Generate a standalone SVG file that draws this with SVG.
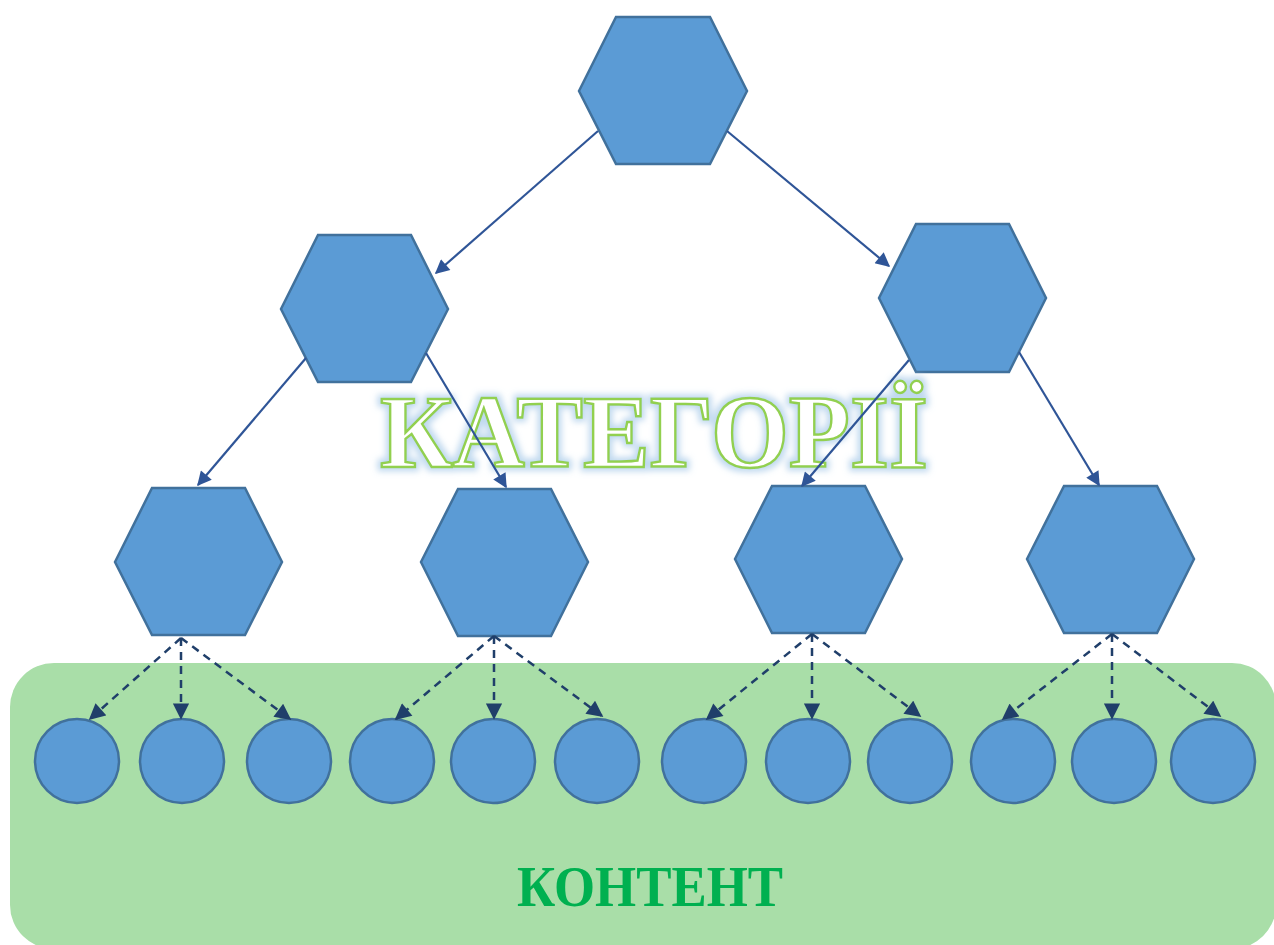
<svg xmlns="http://www.w3.org/2000/svg" width="1274" height="945" viewBox="0 0 1274 945">
  <defs>
    <style>
      .hex { fill: #5b9bd5; stroke: #41719c; stroke-width: 2.5; stroke-linejoin: miter; }
      .leaf { fill: #5b9bd5; stroke: #41719c; stroke-width: 2.5; }
      .solid { fill: none; stroke: #2f5597; stroke-width: 2.2; marker-end: url(#headSolid); }
      .dash { fill: none; stroke: #203f6a; stroke-width: 2.5; stroke-dasharray: 8 6; marker-end: url(#headDash); }
      .title { font-family: "Liberation Serif", "DejaVu Serif", serif; font-weight: bold; }
    </style>
    <marker id="headSolid" viewBox="0 0 10 10" refX="9" refY="5" markerWidth="7" markerHeight="6.5" orient="auto" markerUnits="strokeWidth">
      <path d="M0,0 L10,5 L0,10 z" fill="#2f5597"/>
    </marker>
    <marker id="headDash" viewBox="0 0 10 10" refX="9" refY="5" markerWidth="7" markerHeight="6.5" orient="auto" markerUnits="strokeWidth">
      <path d="M0,0 L10,5 L0,10 z" fill="#203f6a"/>
    </marker>
    <filter id="glow" x="-10%" y="-30%" width="120%" height="160%">
      <feMorphology in="SourceAlpha" operator="dilate" radius="2.5" result="fat"/>
      <feGaussianBlur in="fat" stdDeviation="3" result="soft"/>
      <feFlood flood-color="#bdd7ee" flood-opacity="0.95"/>
      <feComposite in2="soft" operator="in" result="halo"/>
      <feMerge>
        <feMergeNode in="halo"/>
        <feMergeNode in="SourceGraphic"/>
      </feMerge>
    </filter>
  </defs>

  <rect width="1274" height="945" fill="#ffffff"/>

  <!-- content area -->
  <g id="content-area">
    <rect x="10" y="663" width="1266" height="286" rx="44" ry="44" fill="#a9dea8"/>
    <text class="title" x="650" y="906" text-anchor="middle" font-size="57" fill="#00b050" textLength="266" lengthAdjust="spacingAndGlyphs">КОНТЕНТ</text>
  </g>

  <!-- category hexagons -->
  <g id="cat-root"><polygon class="hex" points="579,91 616,17 710,17 747,91 710,164 616,164"/></g>
  <g id="cat-left"><polygon class="hex" points="281,309 318,235 411,235 448,309 411,382 318,382"/></g>
  <g id="cat-right"><polygon class="hex" points="879,298 916,224 1009,224 1046,298 1009,372 916,372"/></g>
  <g id="cat-a"><polygon class="hex" points="115,562 152,488 245,488 282,562 245,635 152,635"/></g>
  <g id="cat-b"><polygon class="hex" points="421,562 458,489 551,489 588,562 551,636 458,636"/></g>
  <g id="cat-c"><polygon class="hex" points="735,559 772,486 865,486 902,559 865,633 772,633"/></g>
  <g id="cat-d"><polygon class="hex" points="1027,559 1064,486 1157,486 1194,559 1157,633 1064,633"/></g>

  <!-- heading -->
  <g id="heading" filter="url(#glow)">
    <text class="title" x="654" y="467" text-anchor="middle" font-size="104" fill="#ffffff" stroke="#92d050" stroke-width="2.5" textLength="548" lengthAdjust="spacingAndGlyphs">КАТЕГОРІЇ</text>
  </g>

  <!-- content items -->
  <g id="items">
    <circle id="item-1" class="leaf" cx="77" cy="761" r="42"/>
    <circle id="item-2" class="leaf" cx="182" cy="761" r="42"/>
    <circle id="item-3" class="leaf" cx="289" cy="761" r="42"/>
    <circle id="item-4" class="leaf" cx="392" cy="761" r="42"/>
    <circle id="item-5" class="leaf" cx="493" cy="761" r="42"/>
    <circle id="item-6" class="leaf" cx="597" cy="761" r="42"/>
    <circle id="item-7" class="leaf" cx="704" cy="761" r="42"/>
    <circle id="item-8" class="leaf" cx="808" cy="761" r="42"/>
    <circle id="item-9" class="leaf" cx="910" cy="761" r="42"/>
    <circle id="item-10" class="leaf" cx="1013" cy="761" r="42"/>
    <circle id="item-11" class="leaf" cx="1114" cy="761" r="42"/>
    <circle id="item-12" class="leaf" cx="1213" cy="761" r="42"/>
  </g>

  <!-- connectors -->
  <g id="connectors">
    <line class="solid" x1="598" y1="131" x2="436" y2="273"/>
    <line class="solid" x1="727" y1="131" x2="889" y2="266"/>
    <line class="solid" x1="306" y1="358" x2="198" y2="485"/>
    <line class="solid" x1="426" y1="353" x2="506" y2="487"/>
    <line class="solid" x1="909" y1="360" x2="802" y2="486"/>
    <line class="solid" x1="1019" y1="352" x2="1099" y2="485"/>

    <line class="dash" x1="181" y1="638" x2="90" y2="719"/>
    <line class="dash" x1="181" y1="638" x2="181" y2="718"/>
    <line class="dash" x1="181" y1="638" x2="290" y2="719"/>

    <line class="dash" x1="494" y1="636" x2="396" y2="719"/>
    <line class="dash" x1="494" y1="636" x2="494" y2="718"/>
    <line class="dash" x1="494" y1="636" x2="602" y2="716"/>

    <line class="dash" x1="812" y1="634" x2="707" y2="719"/>
    <line class="dash" x1="812" y1="634" x2="812" y2="718"/>
    <line class="dash" x1="812" y1="634" x2="920" y2="716"/>

    <line class="dash" x1="1112" y1="634" x2="1003" y2="719"/>
    <line class="dash" x1="1112" y1="634" x2="1112" y2="718"/>
    <line class="dash" x1="1112" y1="634" x2="1220" y2="716"/>
  </g>
</svg>
